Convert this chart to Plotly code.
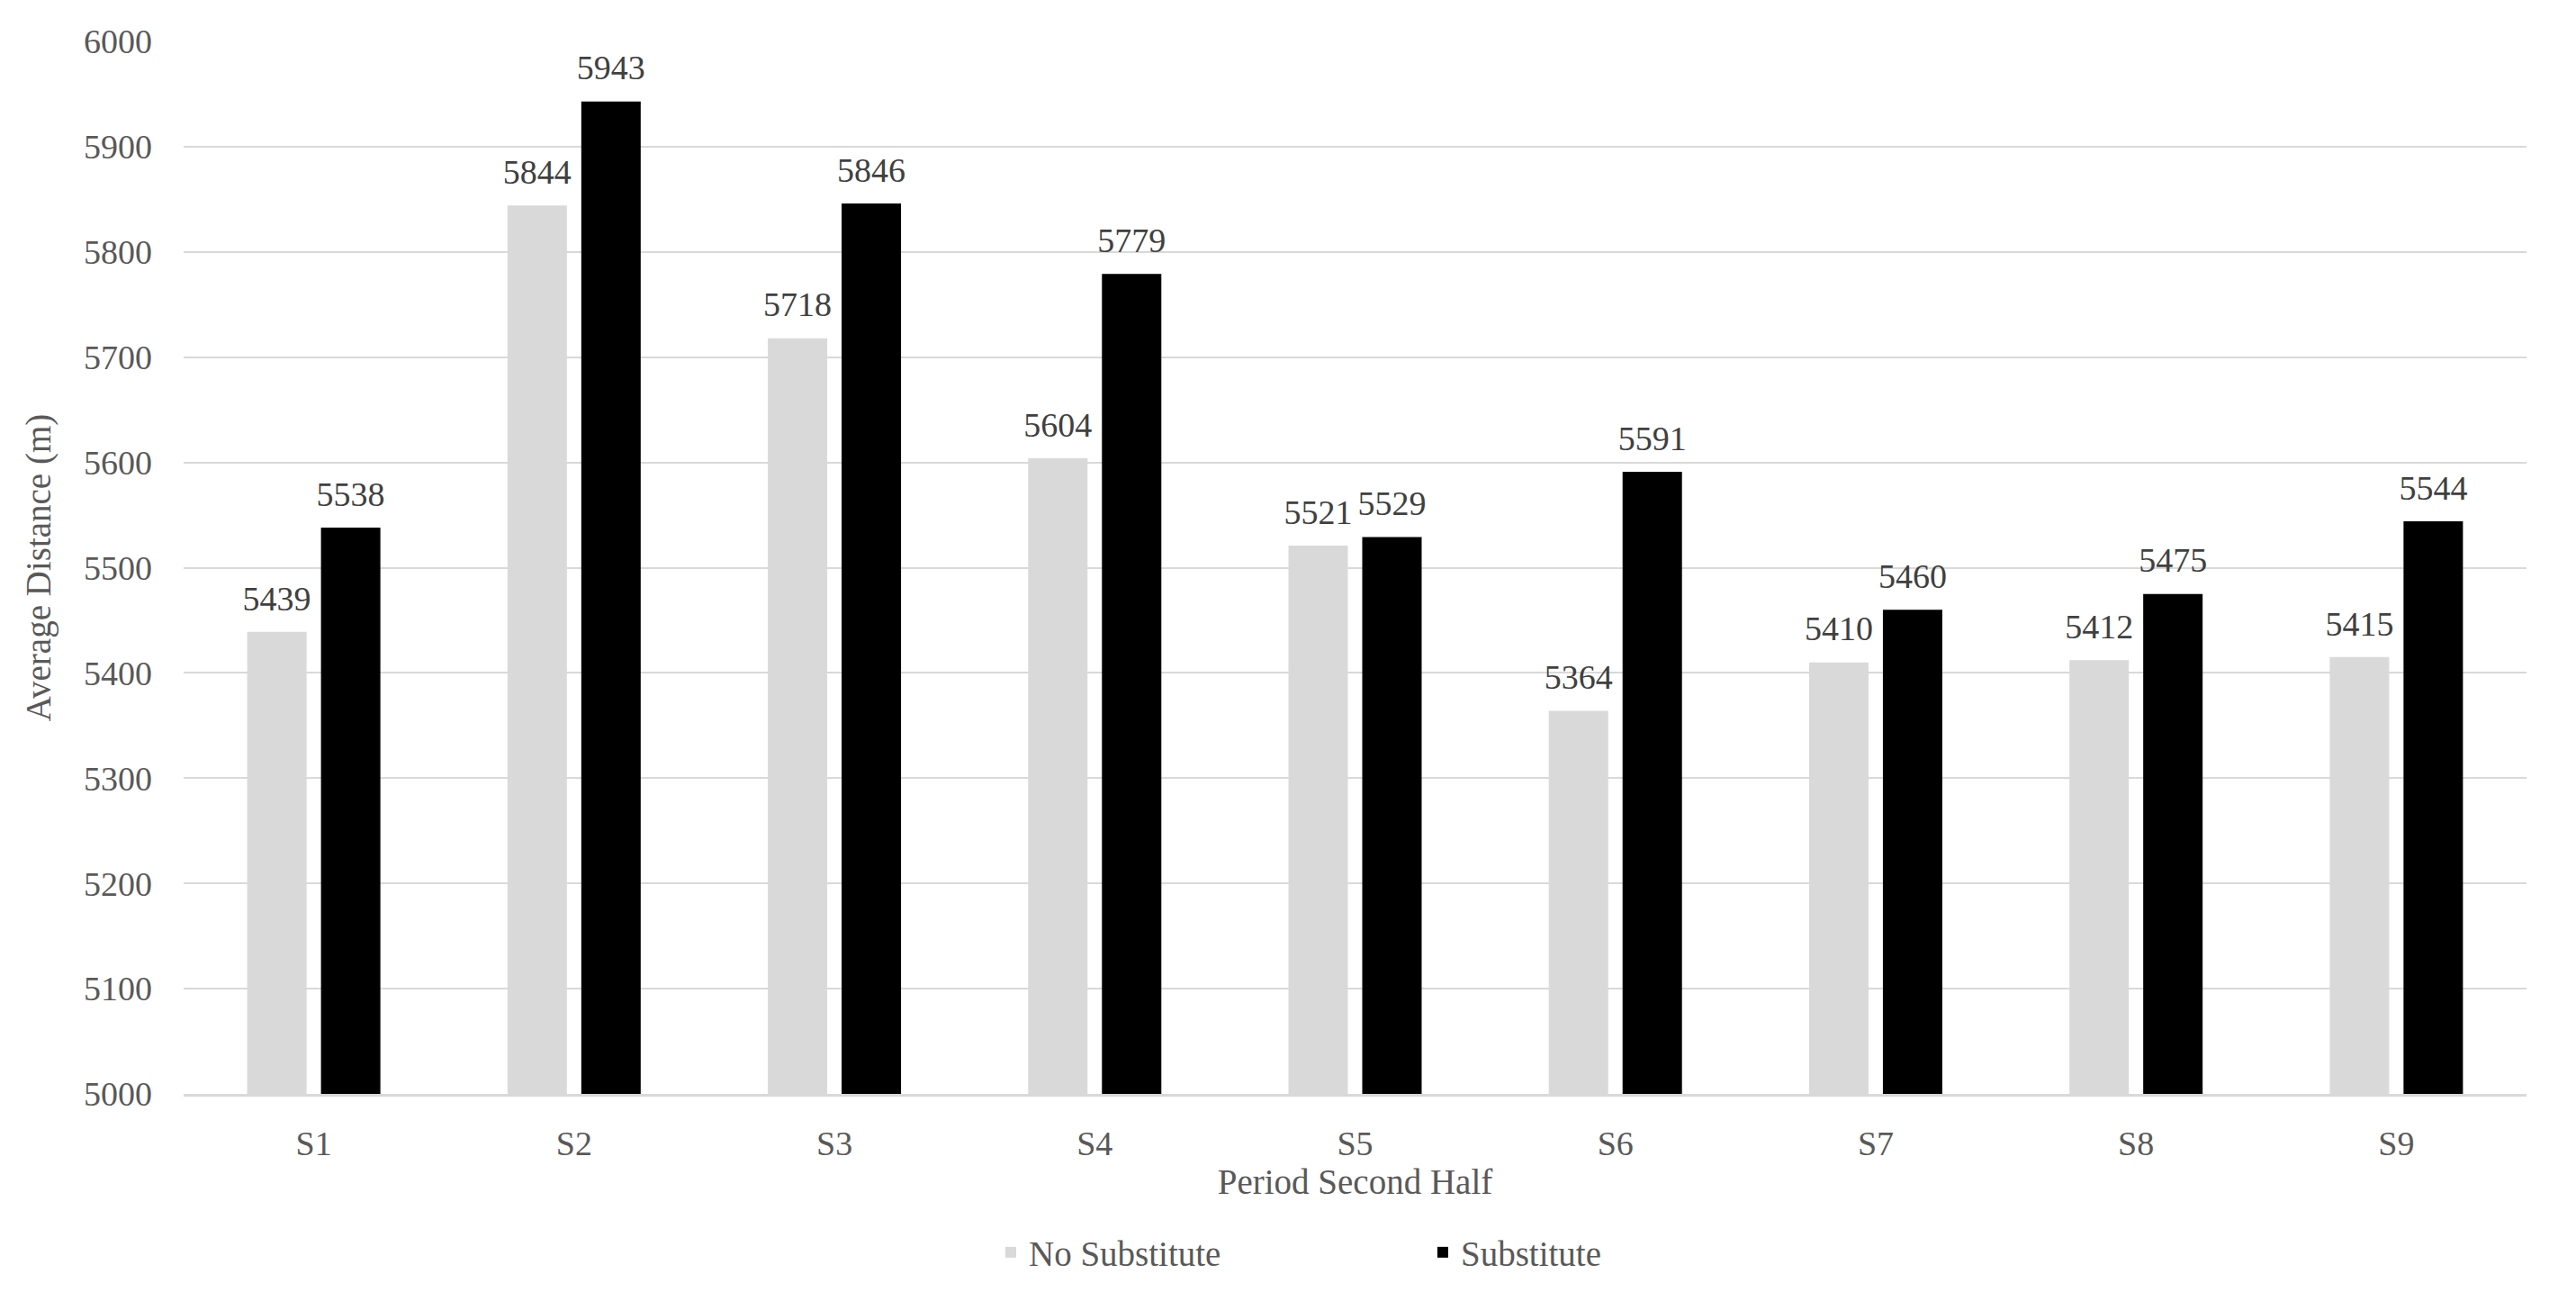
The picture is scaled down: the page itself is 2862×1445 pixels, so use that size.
import plotly.graph_objects as go

categories = ["S1", "S2", "S3", "S4", "S5", "S6", "S7", "S8", "S9"]
no_substitute = [5439, 5844, 5718, 5604, 5521, 5364, 5410, 5412, 5415]
substitute = [5538, 5943, 5846, 5779, 5529, 5591, 5460, 5475, 5544]
y_ticks = [5000, 5100, 5200, 5300, 5400, 5500, 5600, 5700, 5800, 5900, 6000]

FONT = "Liberation Serif"
TICK_COLOR = "#595959"
LABEL_COLOR = "#404040"
BARGAP = 0.433

# page has an 8px body margin, so the figure is sized to fit inside it
W, H = 2846, 1429

series = [("No Substitute", no_substitute, "#d9d9d9"),
          ("Substitute", substitute, "#000000")]

fig = go.Figure()
for name, vals, color in series:
    fig.add_trace(go.Bar(
        name=name, x=categories, y=vals,
        marker=dict(color=color, line=dict(width=0)),
        hoverinfo="x+y",
    ))
# value labels, grouped like the bars, sitting a little above each bar
for name, vals, color in series:
    fig.add_trace(go.Scatter(
        x=categories, y=vals, mode="markers+text",
        text=[str(v) for v in vals], textposition="top center",
        textfont=dict(family=FONT, size=38, color=LABEL_COLOR),
        marker=dict(size=22, color="rgba(0,0,0,0)", line=dict(width=0)),
        showlegend=False, hoverinfo="skip", cliponaxis=False,
    ))

fig.update_layout(
    width=W, height=H,
    paper_bgcolor="white", plot_bgcolor="white",
    margin=dict(l=196, r=47, t=38, b=222, autoexpand=False),
    barmode="group", bargap=BARGAP, bargroupgap=0.195,
    scattermode="group", scattergap=BARGAP,
    font=dict(family=FONT, color=TICK_COLOR, size=38),
    showlegend=True,
    legend=dict(
        orientation="h", xref="container", yref="container",
        x=1095 / W, xanchor="left", y=1 - 1383 / H, yanchor="middle",
        font=dict(family=FONT, size=39, color=TICK_COLOR),
        entrywidth=435, entrywidthmode="pixels",
    ),
)
fig.update_xaxes(
    automargin=False,
    showline=True, linecolor="#d9d9d9", linewidth=3,
    showgrid=False, ticks="", ticklabelstandoff=19,
    tickfont=dict(family=FONT, size=38, color=TICK_COLOR),
    title=dict(text="Period Second Half", standoff=9,
               font=dict(family=FONT, size=39, color=TICK_COLOR)),
)
fig.update_yaxes(
    automargin=False,
    range=[5000, 6000], tickvals=y_ticks, ticktext=[str(v) for v in y_ticks],
    showgrid=True, gridcolor="#d9d9d9", gridwidth=2,
    zeroline=False, showline=False, ticks="", ticklabelstandoff=34,
    tickfont=dict(family=FONT, size=38, color=TICK_COLOR),
    title=dict(text="Average Distance (m)", standoff=24,
               font=dict(family=FONT, size=39, color=TICK_COLOR)),
)

fig.write_html("out.html")
